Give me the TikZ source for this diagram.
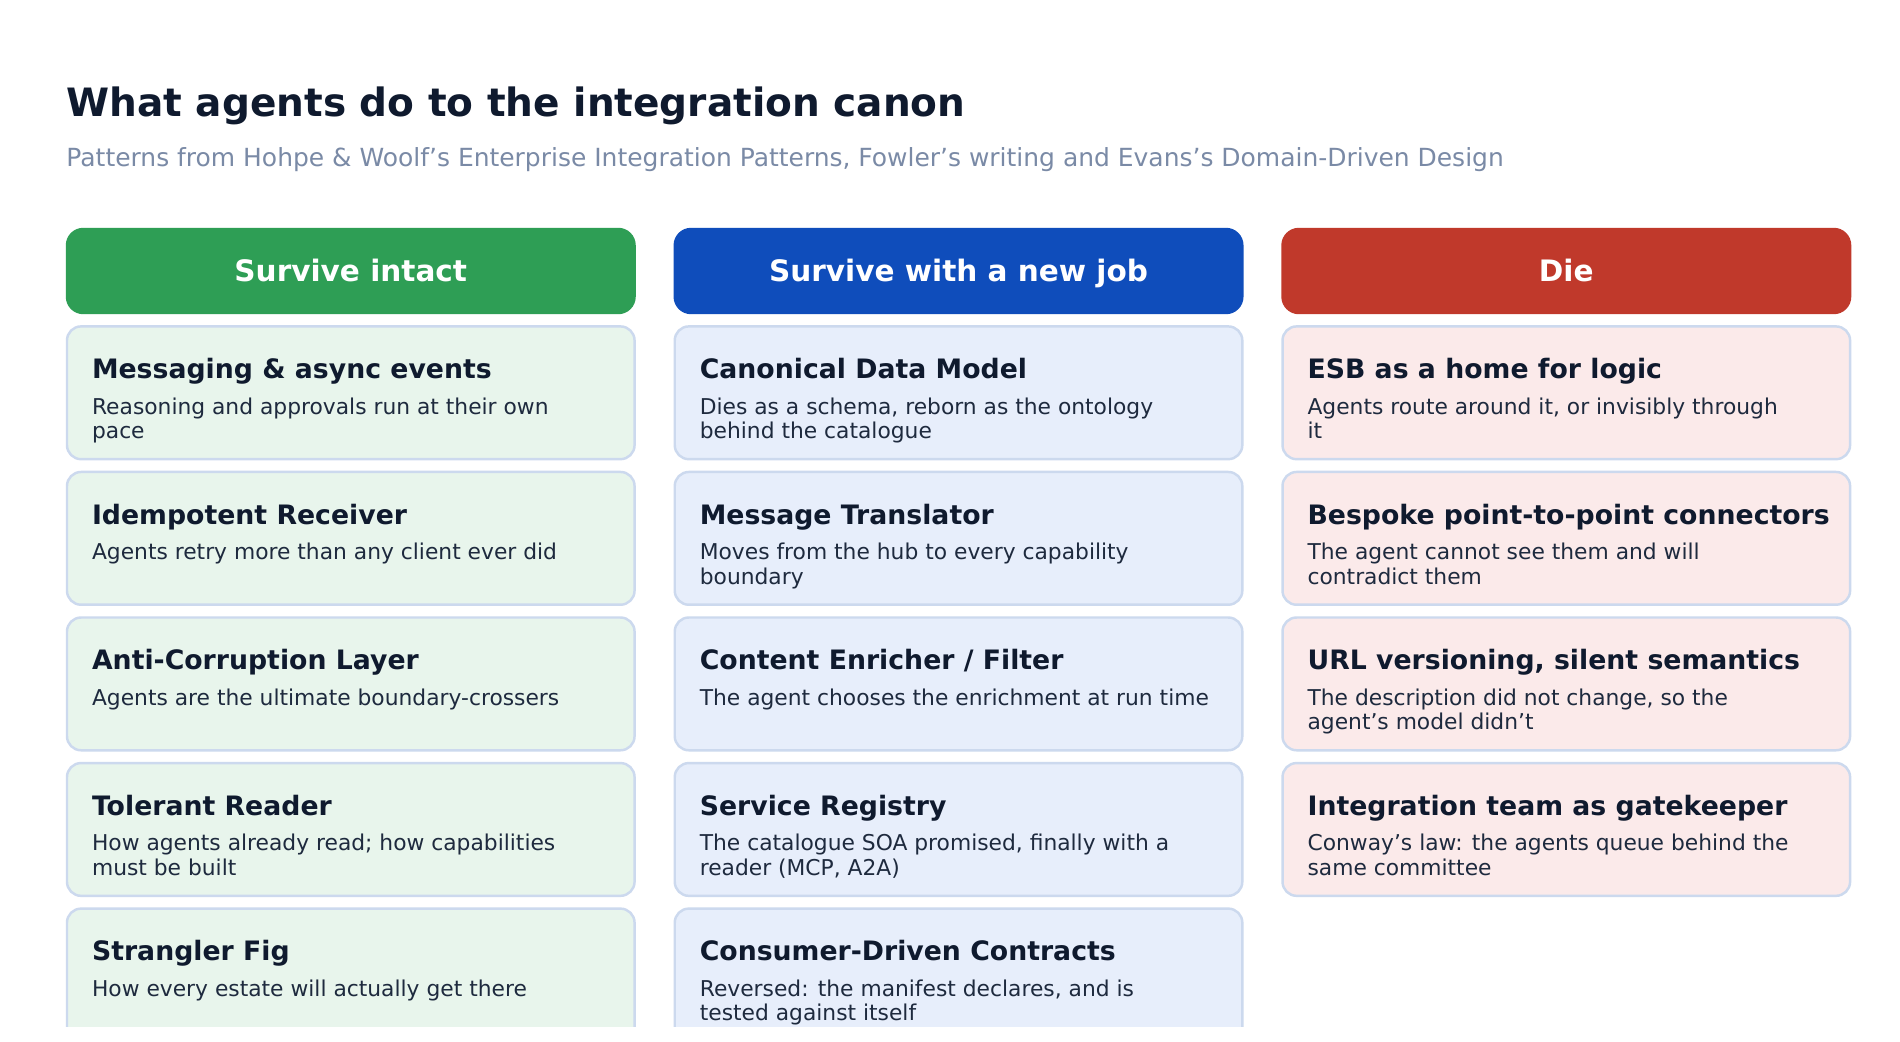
\documentclass[tikz,border=0pt]{standalone}
\usepackage{fontspec}
\setmainfont{DejaVu Sans}
\definecolor{ink}{HTML}{0F1A2E}
\definecolor{body}{HTML}{1E2A3E}
\definecolor{muted}{HTML}{7A8AA6}
\definecolor{keepc}{HTML}{2E9E55}
\definecolor{jobc}{HTML}{0F4DBB}
\definecolor{diec}{HTML}{C0392B}
\definecolor{keepf}{HTML}{E8F5EC}
\definecolor{jobf}{HTML}{E7EEFB}
\definecolor{dief}{HTML}{FBEAEA}
\definecolor{edgec}{HTML}{CCD9EE}
\newcommand{\ap}{\char39\relax}
\tikzset{
  head/.style={rounded corners=5pt,draw=none},
  card/.style={rounded corners=4pt,draw=edgec,line width=0.7pt},
  htext/.style={anchor=base,text=white,font=\fontsize{8.4}{10}\selectfont\bfseries},
  ctitle/.style={anchor=base west,inner sep=0,text=ink,font=\fontsize{7.6}{9}\selectfont\bfseries},
  cbody/.style={anchor=north west,inner sep=0,text=body,align=left,font=\fontsize{6.2}{6.9}\selectfont}
}
% one card: column x, top y, fill, name, title, text
\newcommand{\pcard}[6]{
  \draw[card,fill=#3] (#1+1,#2) rectangle (#1+467,#2+109);
  \node[ctitle] (#4t) at (#1+21,#2+43) {#5};
  \node[cbody] (#4b) at (#1+21,#2+58) {#6};
}
\begin{document}
\begin{tikzpicture}[x=0.012179cm,y=-0.012179cm]
\useasboundingbox[fill=white] (0,0) rectangle (1560,855);
\node[anchor=base west,inner sep=0,text=ink,font=\fontsize{11.1}{14}\selectfont\bfseries] (title) at (54,96) {What agents do to the integration canon};
\node[anchor=base west,inner sep=0,text=muted,font=\fontsize{7.1}{8}\selectfont] (sub) at (54,137) {Patterns from Hohpe \& Woolf\ap s Enterprise Integration Patterns, Fowler\ap s writing and Evans\ap s Domain-Driven Design};
% column headers
\fill[head,keepc] (54,187) rectangle (522,258);
\fill[head,jobc] (553,187) rectangle (1021,258);
\fill[head,diec] (1052,187) rectangle (1520,258);
\node[htext] (hkeep) at (288,231) {Survive intact};
\node[htext] (hjob) at (787,231) {Survive with a new job};
\node[htext] (hdie) at (1286,231) {Die};
\begin{scope}
\clip (0,0) rectangle (1560,843);
% survive intact
\pcard{54}{268}{keepf}{ka}{Messaging \& async events}{Reasoning and approvals run at their own\\pace}
\pcard{54}{387.5}{keepf}{kb}{Idempotent Receiver}{Agents retry more than any client ever did}
\pcard{54}{507}{keepf}{kc}{Anti-Corruption Layer}{Agents are the ultimate boundary-crossers}
\pcard{54}{626.5}{keepf}{kd}{Tolerant Reader}{How agents already read; how capabilities\\must be built}
\pcard{54}{746}{keepf}{ke}{Strangler Fig}{How every estate will actually get there}
% survive with a new job
\pcard{553}{268}{jobf}{ja}{Canonical Data Model}{Dies as a schema, reborn as the ontology\\behind the catalogue}
\pcard{553}{387.5}{jobf}{jb}{Message Translator}{Moves from the hub to every capability\\boundary}
\pcard{553}{507}{jobf}{jc}{Content Enricher / Filter}{The agent chooses the enrichment at run time}
\pcard{553}{626.5}{jobf}{jd}{Service Registry}{The catalogue SOA promised, finally with a\\reader (MCP, A2A)}
\pcard{553}{746}{jobf}{je}{Consumer-Driven Contracts}{Reversed: the manifest declares, and is\\tested against itself}
% die
\pcard{1052}{268}{dief}{da}{ESB as a home for logic}{Agents route around it, or invisibly through\\it}
\pcard{1052}{387.5}{dief}{db}{Bespoke point-to-point connectors}{The agent cannot see them and will\\contradict them}
\pcard{1052}{507}{dief}{dc}{URL versioning, silent semantics}{The description did not change, so the\\agent\ap s model didn\ap t}
\pcard{1052}{626.5}{dief}{dd}{Integration team as gatekeeper}{Conway\ap s law: the agents queue behind the\\same committee}
\end{scope}
\end{tikzpicture}
\end{document}
